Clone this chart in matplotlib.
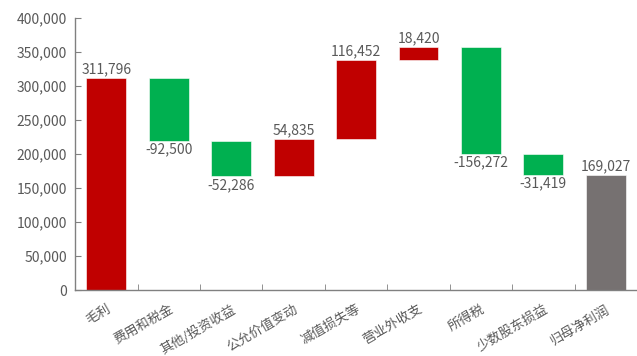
import matplotlib
matplotlib.use('Agg')
import matplotlib.pyplot as plt
import numpy as np

plt.rcParams['font.family'] = ['Noto Sans CJK SC', 'DejaVu Sans']

# 利润拆解瀑布图数据
categories = ['毛利', '费用和税金', '其他/投资收益', '公允价值变动', '减值损失等',
              '营业外收支', '所得税', '少数股东损益', '归母净利润']
changes = [311796, -92500, -52286, 54835, 116452, 18420, -156272, -31419]
net_profit = 169027

# 计算每根柱子的底部与高度
bottoms, heights, colors = [], [], []
level = 0
for i, v in enumerate(changes):
    if i == 0:
        bottoms.append(0)
        heights.append(v)
        colors.append('#C00000')
    else:
        if v >= 0:
            bottoms.append(level)
            colors.append('#C00000')
        else:
            bottoms.append(level + v)
            colors.append('#00B050')
        heights.append(abs(v))
    level += v
bottoms.append(0)
heights.append(net_profit)
colors.append('#767171')
values = changes + [net_profit]

fig = plt.figure(figsize=(6.37, 3.56), dpi=100)
ax = fig.add_axes([0.118, 0.185, 0.882, 0.765])

x = np.arange(len(categories))
ax.bar(x, heights, bottom=bottoms, width=0.64, color=colors,
       edgecolor='white', linewidth=0.4)

text_color = '#595959'
for xi, v, b, h in zip(x, values, bottoms, heights):
    label = f'{v:,}'
    if v >= 0:
        ax.text(xi, b + h + 2500, label, ha='center', va='bottom',
                fontsize=10, color=text_color)
    else:
        ax.text(xi, b - 2500, label, ha='center', va='top',
                fontsize=10, color=text_color)

ax.set_xlim(-0.5, len(categories) - 0.5)
ax.set_ylim(0, 400000)
ax.set_yticks(np.arange(0, 400001, 50000))
ax.yaxis.set_major_formatter(matplotlib.ticker.FuncFormatter(lambda v, p: f'{int(v):,}'))

# 分类刻度放在柱子之间
ax.set_xticks(x)
ax.set_xticklabels(categories, rotation=30, ha='right', rotation_mode='anchor',
                   fontsize=9.5, color=text_color)
ax.set_xticks(np.arange(0.5, len(categories) - 0.5, 1), minor=True)
ax.tick_params(axis='x', which='major', length=0, pad=9)
ax.tick_params(axis='x', which='minor', direction='in', length=4, color='#808080')
ax.tick_params(axis='y', direction='in', length=4, color='#808080',
               labelsize=10, labelcolor=text_color, pad=6)

for s in ['top', 'right']:
    ax.spines[s].set_visible(False)
for s in ['left', 'bottom']:
    ax.spines[s].set_color('#808080')
    ax.spines[s].set_linewidth(1.0)

fig.savefig('out.png', dpi=100)
